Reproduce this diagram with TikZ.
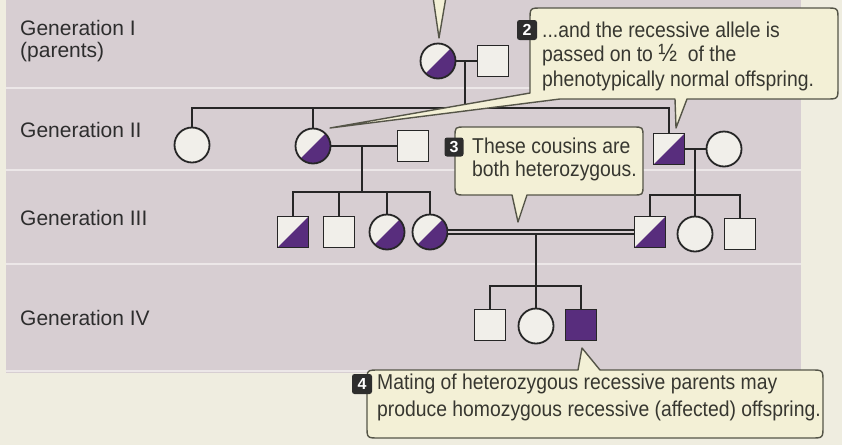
\documentclass[tikz,border=0pt]{standalone}
\usepackage{fontspec}
\setmainfont{Liberation Sans}
\newfontfamily\notefont[FakeStretch=0.9]{Liberation Sans}

\definecolor{paper}{RGB}{239,237,224}
\definecolor{panel}{RGB}{215,206,210}
\definecolor{rulecol}{RGB}{236,231,232}
\definecolor{purp}{RGB}{88,45,125}
\definecolor{symfill}{RGB}{241,239,234}
\definecolor{ink}{RGB}{38,38,38}
\definecolor{bubble}{RGB}{243,240,214}
\definecolor{bubbleedge}{RGB}{85,85,72}
\definecolor{labelink}{RGB}{45,45,45}
\definecolor{noteink}{RGB}{55,55,48}
\definecolor{badge}{RGB}{45,45,45}

\tikzset{
  person/.style={draw=ink, line width=1.8pt, fill=symfill, inner sep=0pt},
  male/.style={person, rectangle, minimum size=31pt},
  female/.style={person, circle, minimum size=35pt},
  halfshade/.style={path picture={\fill[purp] (path picture bounding box.south west) -- (path picture bounding box.north east) -- (path picture bounding box.south east) -- cycle;}},
  carrierM/.style={male, halfshade},
  carrierF/.style={female, halfshade},
  affectedM/.style={male, fill=purp},
  kin/.style={draw=ink, line width=2pt},
  bubblebox/.style={fill=bubble, draw=bubbleedge, line width=1.4pt, line join=round},
  badgebox/.style={fill=badge, rounded corners=2.5pt, minimum width=20pt, minimum height=20pt, inner sep=0pt, text=white, font=\fontsize{16}{16}\selectfont\bfseries},
  genlabel/.style={anchor=base west, inner sep=0pt, text=labelink, font=\fontsize{21}{21}\selectfont},
  notetext/.style={anchor=west, inner sep=0pt, align=left, text=noteink},
}

\begin{document}
\begin{tikzpicture}[x=1pt, y=-1pt]
  \useasboundingbox (0,0) rectangle (842,445);
  \clip (0,0) rectangle (842,445);

  % page and generation bands
  \fill[paper] (0,0) rectangle (842,445);
  \fill[panel] (6,0) rectangle (801,373);
  \foreach \yy in {88,170,264,371}
    \draw[rulecol, line width=2pt] (6,\yy) -- (801,\yy);

  % generation labels
  \node[genlabel] (gI)   at (20,35)  {Generation I};
  \node[genlabel] (gIp)  at (20,57)  {(parents)};
  \node[genlabel] (gII)  at (20,137) {Generation II};
  \node[genlabel] (gIII) at (20,225) {Generation III};
  \node[genlabel] (gIV)  at (20,325) {Generation IV};

  % individuals
  \node[carrierF] (I1) at (438,61) {};
  \node[male]     (I2) at (493,61) {};

  \node[female]   (II1) at (192,145) {};
  \node[carrierF] (II2) at (313,146) {};
  \node[male]     (II5) at (413,146) {};
  \node[carrierM] (II3) at (669,149) {};
  \node[female]   (II4) at (724,149) {};

  \node[carrierM] (III1) at (293,232) {};
  \node[male]     (III2) at (339,232) {};
  \node[carrierF] (III3) at (387,232) {};
  \node[carrierF] (III4) at (430,232) {};
  \node[carrierM] (III5) at (650,232) {};
  \node[female]   (III6) at (695,234) {};
  \node[male]     (III7) at (740,234) {};

  \node[male]      (IV1) at (490,325) {};
  \node[female]    (IV2) at (536,326) {};
  \node[affectedM] (IV3) at (581,325) {};

  % mating and descent points
  \coordinate (m1)  at (465,61);    \coordinate (s2)  at (465,108);
  \coordinate (m2)  at (362,146);   \coordinate (s3)  at (362,192);
  \coordinate (m3)  at (695,149);   \coordinate (s3r) at (695,195);
  \coordinate (m4)  at (536,234.6); \coordinate (s4)  at (536,286);

  % generation I -> II
  \draw[kin] (I1) -- (I2);
  \draw[kin] (m1) -- (s2);
  \draw[kin] (II1) |- (s2) -| (II3);
  \draw[kin] (s2) -| (II2);

  % generation II -> III, left family
  \draw[kin] (II2) -- (II5);
  \draw[kin] (m2) -- (s3);
  \draw[kin] (III1) |- (s3) -| (III4);
  \draw[kin] (s3) -| (III2);
  \draw[kin] (s3) -| (III3);

  % generation II -> III, right family
  \draw[kin] (II3) -- (II4);
  \draw[kin] (m3) -- (s3r);
  \draw[kin] (III5) |- (s3r) -| (III7);
  \draw[kin] (s3r) -- (III6);

  % consanguineous mating and generation IV
  \draw[draw=ink, line width=1.4pt, double=panel, double distance=2.6pt] (III4) -- (III5);
  \draw[kin] (m4) -- (s4);
  \draw[kin] (IV1) |- (s4) -| (IV3);
  \draw[kin] (s4) -- (IV2);

  % tail of the note above the picture
  \fill[bubble] (433,-3) -- (439,38) -- (446,-3) -- cycle;
  \draw[bubbleedge, line width=1.4pt, line join=round] (433,-3) -- (439,38) -- (446,-3);

  % note 2
  \path[bubblebox] (530,93) -- (530,20) .. controls (530,8) .. (542,8) -- (826,8)
    .. controls (838,8) .. (838,20) -- (838,87) .. controls (838,99) .. (826,99)
    -- (687,99) -- (676,128) -- (675,99) -- (560,99) -- (330,128) -- cycle;
  \node[badgebox] (b2) at (527,30) {2};
  \node[notetext, font=\notefont\fontsize{21.5}{24.5}\selectfont] (t2) at (542,56)
    {...and the recessive allele is\\passed on to {\fontsize{25}{25}\selectfont ½}\ \ of the\\phenotypically normal offspring.};

  % note 3
  \path[bubblebox] (465,127) -- (633,127) .. controls (643,127) .. (643,137) -- (643,185)
    .. controls (643,195) .. (633,195) -- (527,195) -- (518,222) -- (512,195) -- (465,195)
    .. controls (455,195) .. (455,185) -- (455,137) .. controls (455,127) .. (465,127) -- cycle;
  \node[badgebox, minimum width=19pt, minimum height=19pt] (b3) at (454,147) {3};
  \node[notetext, font=\notefont\fontsize{21.5}{23}\selectfont] (t3) at (472,159)
    {These cousins are\\both heterozygous.};

  % note 4
  \path[bubblebox] (379,370) -- (578,370) -- (582,348) -- (600,370) -- (811,370)
    .. controls (823,370) .. (823,382) -- (823,426) .. controls (823,438) .. (811,438)
    -- (379,438) .. controls (367,438) .. (367,426) -- (367,382) .. controls (367,370) .. (379,370) -- cycle;
  \node[badgebox] (b4) at (362,384) {4};
  \node[notetext, font=\notefont\fontsize{21.5}{27}\selectfont] (t4) at (377,397.5)
    {Mating of heterozygous recessive parents may\\produce homozygous recessive (affected) offspring.};
\end{tikzpicture}
\end{document}
